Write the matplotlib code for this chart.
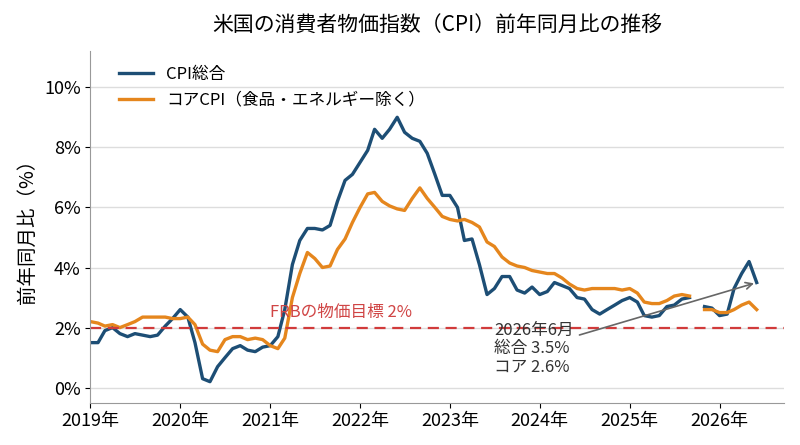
import matplotlib
matplotlib.use("Agg")
import matplotlib.pyplot as plt
import numpy as np
import pandas as pd

plt.rcParams['font.family'] = ['Noto Sans CJK JP', 'DejaVu Sans']

nan = np.nan
cpi = [1.5,1.5,1.9,2.0,1.8,1.7,1.8,1.75,1.7,1.75,2.05,2.3,
       2.6,2.35,1.5,0.3,0.2,0.7,1.0,1.3,1.4,1.25,1.2,1.35,
       1.4,1.7,2.6,4.1,4.9,5.3,5.3,5.25,5.4,6.2,6.9,7.1,
       7.5,7.9,8.6,8.3,8.6,9.0,8.5,8.3,8.2,7.8,7.1,6.4,
       6.4,6.0,4.9,4.95,4.1,3.1,3.3,3.7,3.7,3.25,3.15,3.35,
       3.1,3.2,3.5,3.4,3.3,3.0,2.95,2.6,2.45,2.6,2.75,2.9,
       3.0,2.85,2.4,2.35,2.4,2.7,2.75,2.95,3.0,nan,2.7,2.65,
       2.4,2.45,3.3,3.8,4.2,3.5]
core = [2.2,2.15,2.05,2.1,2.0,2.1,2.2,2.35,2.35,2.35,2.35,2.3,
        2.3,2.35,2.1,1.45,1.25,1.2,1.6,1.7,1.7,1.6,1.65,1.6,
        1.4,1.3,1.65,3.0,3.8,4.5,4.3,4.0,4.05,4.6,4.95,5.5,
        6.0,6.45,6.5,6.2,6.05,5.95,5.9,6.3,6.65,6.3,6.0,5.7,
        5.6,5.55,5.6,5.5,5.35,4.85,4.7,4.35,4.15,4.05,4.0,3.9,
        3.85,3.8,3.8,3.65,3.45,3.3,3.25,3.3,3.3,3.3,3.3,3.25,
        3.3,3.15,2.85,2.8,2.8,2.9,3.05,3.1,3.05,nan,2.6,2.6,
        2.5,2.5,2.6,2.75,2.85,2.6]
dates = pd.date_range("2019-01-01", periods=len(cpi), freq="MS")
years = [2019,2020,2021,2022,2023,2024,2025,2026]
yticks = [0,2,4,6,8,10]

fig, ax = plt.subplots(figsize=(8,4.45), dpi=100)
fig.subplots_adjust(left=0.113, right=0.98, top=0.885, bottom=0.095)
blue = '#1d4e75'; orange = '#e5861d'
ax.plot(dates, cpi, color=blue, lw=2.4, label='CPI総合')
ax.plot(dates, core, color=orange, lw=2.4, label='コアCPI（食品・エネルギー除く）')
ax.axhline(2, color='#d13b3b', ls='--', lw=1.6, dashes=(5,3))
ax.text(pd.Timestamp('2021-01-01'), 2.35, 'FRBの物価目標 2%', color='#d04545', fontsize=12)
ax.annotate('2026年6月\n総合 3.5%\nコア 2.6%', xy=(dates[-1], 3.5),
            xytext=(pd.Timestamp('2023-07-01'), 0.55), fontsize=12, color='#333333',
            arrowprops=dict(arrowstyle='->', color='#666666', lw=1.2),
            linespacing=1.1)
ax.set_ylim(-0.5, 11.2)
ax.set_xlim(pd.Timestamp('2019-01-01'), pd.Timestamp('2026-09-20'))
ax.set_yticks(yticks)
ax.set_yticklabels([f'{v}%' for v in yticks], fontsize=13)
ax.set_xticks([pd.Timestamp(f'{y}-01-01') for y in years])
ax.set_xticklabels([f'{y}年' for y in years], fontsize=13)
ax.grid(axis='y', color='#dddddd', lw=1)
ax.set_axisbelow(True)
for s in ['top','right']:
    ax.spines[s].set_visible(False)
ax.spines['left'].set_color('#999999')
ax.spines['bottom'].set_color('#999999')
ax.set_ylabel('前年同月比（%）', fontsize=14)
ax.set_title('米国の消費者物価指数（CPI）前年同月比の推移', fontsize=15, pad=14)
ax.legend(loc='upper left', frameon=False, fontsize=12, bbox_to_anchor=(0.02, 1.0))
fig.savefig('out.png')
